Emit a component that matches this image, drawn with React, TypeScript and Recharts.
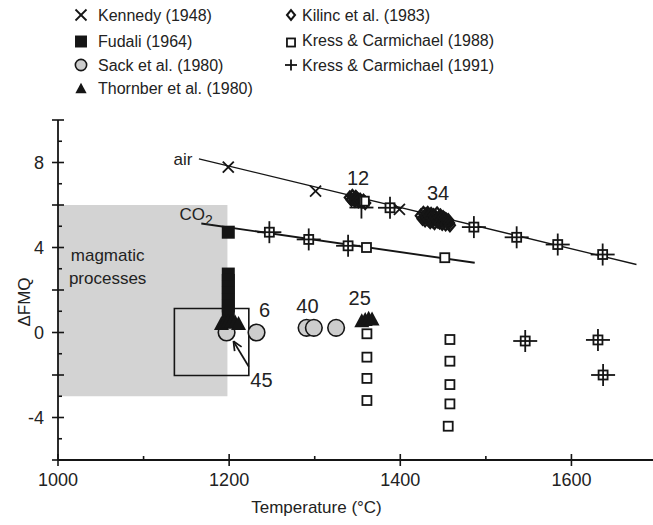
import React from 'react';
import {
  ScatterChart,
  Scatter,
  XAxis,
  YAxis,
  ReferenceArea,
  ReferenceLine,
  ReferenceDot,
} from 'recharts';

const FONT = '"Liberation Sans", Arial, Helvetica, sans-serif';
const INK = '#151515';
const TXT = '#222';

// ---- axes ----
const xTicks = [1000, 1100, 1200, 1300, 1400, 1500, 1600, 1700];
const xTickLabels = [1000, 1200, 1400, 1600];
const yTicks = [-6, -5, -4, -3, -2, -1, 0, 1, 2, 3, 4, 5, 6, 7, 8, 9, 10];
const yTickLabels = [-4, 0, 4, 8];
const xTitle = 'Temperature (°C)';
const yTitle = 'ΔFMQ';

// ---- series (temperature °C, ΔFMQ) ----
const kennedy: [number, number][] = [
  [1199, 7.78], [1301, 6.65], [1399, 5.79],
];
const fudali: [number, number][] = [
  [1199, 4.72], [1199, 2.75], [1199, 2.45], [1199, 2.15], [1199, 1.85],
  [1199, 1.55], [1199, 1.25], [1199, 0.95],
];
const sack: [number, number][] = [
  [1197, 0.0], [1232, 0.0], [1290.5, 0.22], [1299, 0.22], [1325, 0.22],
];
const thornber: [number, number][] = [
  [1191, 0.45], [1195, 0.52], [1199, 0.56], [1203, 0.56], [1207, 0.52], [1211, 0.45],
  [1355, 0.58], [1359, 0.64], [1363, 0.7], [1367, 0.66],
];
const kilinc: [number, number][] = [
  [1341, 6.35], [1343, 6.25], [1344, 6.42], [1346, 6.3], [1347, 6.2], [1348, 6.38],
  [1350, 6.28], [1351, 6.18], [1353, 6.25], [1355, 6.15], [1357, 6.2], [1359, 6.1],
  [1424, 5.5], [1426, 5.35], [1427, 5.62], [1428, 5.45], [1429, 5.28], [1430, 5.55],
  [1431, 5.4], [1432, 5.62], [1433, 5.3], [1434, 5.48], [1435, 5.2], [1436, 5.58],
  [1437, 5.38], [1438, 5.25], [1439, 5.52], [1440, 5.15], [1441, 5.45], [1442, 5.32],
  [1443, 5.6], [1444, 5.22], [1445, 5.4], [1446, 5.18], [1447, 5.5], [1448, 5.3],
  [1449, 5.12], [1450, 5.42], [1451, 5.25], [1452, 5.35], [1453, 5.1], [1454, 5.3],
  [1455, 5.2], [1456, 5.28], [1457, 5.15], [1458, 5.05],
];
const kress1988: [number, number][] = [
  [1247, 4.72], [1293, 4.38], [1339, 4.08], [1360.5, 4.0], [1452, 3.52],
  [1358, 6.18], [1388, 5.87], [1486, 4.96], [1536, 4.48], [1584, 4.14], [1636.5, 3.67],
  [1546, -0.4], [1631, -0.35], [1637, -2.0],
  [1361, -0.06], [1361, -1.16], [1361, -2.16], [1361, -3.2],
  [1458, -0.33], [1458, -1.35], [1458, -2.45], [1458, -3.36], [1456, -4.41],
];
const kress1991: [number, number][] = [
  [1247, 4.72], [1293, 4.38], [1339, 4.08], [1354.6, 5.88], [1388, 5.87],
  [1486, 4.96], [1536, 4.48], [1584, 4.14], [1636.5, 3.67],
  [1546, -0.4], [1631, -0.35], [1637, -2.0],
];

// buffer lines
const airLine: [number, number][] = [[1164.7, 8.17], [1676, 3.2]];
const co2Line: [number, number][] = [[1167.5, 5.13], [1487, 3.28]];

// regions
const magmaticBox = { x1: 1000, x2: 1198, y1: -3, y2: 6 };
const zoomBox = { x1: 1136, x2: 1223, y1: -2.02, y2: 1.13 };
const arrow: [number, number][] = [[1223, -1.61], [1205, -0.41]];

// annotations
const numberLabels = [
  { text: '12', x: 1350.6, y: 7.28 },
  { text: '34', x: 1444.2, y: 6.57 },
  { text: '6', x: 1241.5, y: 1.05 },
  { text: '40', x: 1291.5, y: 1.27 },
  { text: '25', x: 1352.6, y: 1.63 },
  { text: '45', x: 1237.7, y: -2.24 },
];
const airLabel = { text: 'air', x: 1157, y: 8.19 };
const co2Label = { text: 'CO', sub: '2', x: 1181, y: 5.6 };
const boxLabel = { lines: ['magmatic', 'processes'], x: 1058, y: [3.65, 2.55] };

type Kind = 'cross' | 'fsquare' | 'circle' | 'triangle' | 'diamond' | 'osquare' | 'plus';

const legendLeft: { name: string; kind: Kind }[] = [
  { name: 'Kennedy (1948)', kind: 'cross' },
  { name: 'Fudali (1964)', kind: 'fsquare' },
  { name: 'Sack et al. (1980)', kind: 'circle' },
  { name: 'Thornber et al. (1980)', kind: 'triangle' },
];
const legendRight: { name: string; kind: Kind }[] = [
  { name: 'Kilinc et al. (1983)', kind: 'diamond' },
  { name: 'Kress & Carmichael (1988)', kind: 'osquare' },
  { name: 'Kress & Carmichael (1991)', kind: 'plus' },
];

const pts = (a: [number, number][]) => a.map(([x, y]) => ({ x, y }));

function Marker({ kind, cx, cy, s = 1 }: { kind: Kind; cx: number; cy: number; s?: number }) {
  if (cx == null || cy == null) return null;
  switch (kind) {
    case 'cross': {
      const d = 5.5 * s;
      return (
        <g stroke={INK} strokeWidth={1.8}>
          <line x1={cx - d} y1={cy - d} x2={cx + d} y2={cy + d} />
          <line x1={cx - d} y1={cy + d} x2={cx + d} y2={cy - d} />
        </g>
      );
    }
    case 'fsquare': {
      const d = 6.5 * s;
      return <rect x={cx - d} y={cy - d} width={2 * d} height={2 * d} fill={INK} />;
    }
    case 'circle': {
      const r = 8.3 * s;
      return <circle cx={cx} cy={cy} r={r} fill="#cdcdcd" stroke={INK} strokeWidth={1.6} />;
    }
    case 'triangle': {
      const w = 7.5 * s;
      const h = 14 * s;
      return (
        <polygon
          points={`${cx},${cy - h / 2} ${cx + w},${cy + h / 2} ${cx - w},${cy + h / 2}`}
          fill={INK}
        />
      );
    }
    case 'diamond': {
      const w = 5 * s;
      const h = 6 * s;
      return (
        <polygon
          points={`${cx},${cy - h} ${cx + w},${cy} ${cx},${cy + h} ${cx - w},${cy}`}
          fill="none"
          stroke={INK}
          strokeWidth={2.3 * Math.min(1, s + 0.1)}
        />
      );
    }
    case 'osquare': {
      const d = 4.5 * s;
      return (
        <rect x={cx - d} y={cy - d} width={2 * d} height={2 * d} fill="#fff" stroke={INK} strokeWidth={1.8} />
      );
    }
    case 'plus': {
      const a = 12 * s;
      const b = 11 * s;
      return (
        <g stroke={INK} strokeWidth={1.8}>
          <line x1={cx - a} y1={cy} x2={cx + a} y2={cy} />
          <line x1={cx} y1={cy - b} x2={cx} y2={cy + b} />
        </g>
      );
    }
  }
  return null;
}

const XTick = (props: any) => {
  const { x, y, payload } = props;
  const v = payload.value as number;
  const major = v % 200 === 0;
  return (
    <g>
      <line x1={x} x2={x} y1={major ? y - 6 : y - 4} y2={major ? y + 6 : y} stroke={INK} strokeWidth={1.6} />
      {xTickLabels.includes(v) && (
        <text x={x} y={y + 26} textAnchor="middle" fontSize={18} fontFamily={FONT} fill={TXT}>
          {v}
        </text>
      )}
    </g>
  );
};

const YTick = (props: any) => {
  const { x, y, payload } = props;
  const v = payload.value as number;
  const major = v % 2 === 0;
  return (
    <g>
      <line x1={major ? x - 6 : x} x2={major ? x + 6 : x + 4} y1={y} y2={y} stroke={INK} strokeWidth={1.6} />
      {yTickLabels.includes(v) && (
        <text x={x - 14} y={y} dy="0.36em" textAnchor="end" fontSize={18} fontFamily={FONT} fill={TXT}>
          {v}
        </text>
      )}
    </g>
  );
};

const TextAt = ({ cx, cy, text, anchor = 'middle', size = 20 }: any) => (
  <text
    x={cx}
    y={cy}
    dy="0.36em"
    textAnchor={anchor}
    fontSize={size}
    fontFamily={FONT}
    fill={TXT}
  >
    {text}
  </text>
);

const ArrowShape = (p: any) => {
  const { x1, y1, x2, y2 } = p;
  const ang = Math.atan2(y2 - y1, x2 - x1);
  const L = 10;
  const spread = 0.42;
  const a1 = ang + Math.PI - spread;
  const a2 = ang + Math.PI + spread;
  return (
    <g stroke={INK} strokeWidth={1.7} fill="none">
      <line x1={x1} y1={y1} x2={x2} y2={y2} />
      <line x1={x2} y1={y2} x2={x2 + L * Math.cos(a1)} y2={y2 + L * Math.sin(a1)} />
      <line x1={x2} y1={y2} x2={x2 + L * Math.cos(a2)} y2={y2 + L * Math.sin(a2)} />
    </g>
  );
};

const Legend = () => {
  const rowsL = [15, 41.5, 65, 88];
  const rowsR = [15, 40.5, 65];
  return (
    <svg width={653} height={110} style={{ position: 'absolute', left: 0, top: 0 }}>
      {legendLeft.map((it, i) => (
        <g key={it.name}>
          <Marker kind={it.kind} cx={81} cy={rowsL[i]} s={it.kind === 'circle' ? 0.68 : it.kind === 'triangle' ? 0.75 : it.kind === 'fsquare' ? 0.92 : 1} />
          <text x={98} y={rowsL[i]} dy="0.36em" fontSize={16} fontFamily={FONT} fill={TXT}>
            {it.name}
          </text>
        </g>
      ))}
      {legendRight.map((it, i) => (
        <g key={it.name}>
          <Marker kind={it.kind} cx={291} cy={rowsR[i] + (it.kind === 'osquare' ? 2 : 0)} s={it.kind === 'plus' ? 0.5 : it.kind === 'diamond' ? 0.8 : 0.9} />
          <text x={302} y={rowsR[i]} dy="0.36em" fontSize={16} fontFamily={FONT} fill={TXT}>
            {it.name}
          </text>
        </g>
      ))}
    </svg>
  );
};

export default function App() {
  return (
    <div
      style={{
        position: 'absolute',
        left: 0,
        top: 0,
        width: 653,
        height: 525,
        overflow: 'hidden',
        background: '#fff',
      }}
    >
      <ScatterChart width={680} height={525} margin={{ top: 120, right: 23, left: 18, bottom: 0 }}>
        <ReferenceArea
          x1={magmaticBox.x1}
          x2={magmaticBox.x2}
          y1={magmaticBox.y1}
          y2={magmaticBox.y2}
          fill="#d3d3d3"
          fillOpacity={1}
          stroke="none"
        />
        <XAxis
          dataKey="x"
          type="number"
          domain={[1000, 1700]}
          ticks={xTicks}
          interval={0}
          tickSize={0}
          tickMargin={0}
          tickLine={false}
          tick={<XTick />}
          axisLine={{ stroke: INK, strokeWidth: 1.8 }}
          height={65}
          allowDataOverflow
          label={(props: any) => {
            const vb = props.viewBox;
            return (
              <text
                x={vb.x + 258.5}
                y={vb.y + 53}
                textAnchor="middle"
                fontSize={17}
                fontFamily={FONT}
                fill={TXT}
              >
                {xTitle}
              </text>
            );
          }}
        />
        <XAxis
          xAxisId="top"
          orientation="top"
          type="number"
          domain={[1000, 1700]}
          height={0}
          tick={false}
          tickLine={false}
          axisLine={{ stroke: INK, strokeWidth: 1.8 }}
          allowDataOverflow
        />
        <YAxis
          dataKey="y"
          type="number"
          domain={[-6, 10]}
          ticks={yTicks}
          interval={0}
          tickSize={0}
          tickMargin={0}
          tickLine={false}
          tick={<YTick />}
          axisLine={{ stroke: INK, strokeWidth: 1.8 }}
          width={40}
          allowDataOverflow
          label={(props: any) => {
            const vb = props.viewBox;
            const cx = 30;
            const cy = vb.y + vb.height / 2 + 12;
            return (
              <text
                x={cx}
                y={cy}
                transform={`rotate(-90, ${cx}, ${cy})`}
                textAnchor="middle"
                fontSize={17}
                fontFamily={FONT}
                fill={TXT}
              >
                {yTitle}
              </text>
            );
          }}
        />
        <ReferenceArea
          x1={zoomBox.x1}
          x2={zoomBox.x2}
          y1={zoomBox.y1}
          y2={zoomBox.y2}
          fill="none"
          stroke={INK}
          strokeWidth={1.6}
        />
        <Scatter
          data={pts(airLine)}
          line={{ stroke: INK, strokeWidth: 1.3 }}
          shape={() => null}
          isAnimationActive={false}
        />
        <Scatter
          data={pts(co2Line)}
          line={{ stroke: INK, strokeWidth: 1.9 }}
          shape={() => null}
          isAnimationActive={false}
        />
        <ReferenceLine
          segment={[
            { x: arrow[0][0], y: arrow[0][1] },
            { x: arrow[1][0], y: arrow[1][1] },
          ]}
          shape={ArrowShape}
          ifOverflow="visible"
        />
        <Scatter data={pts(fudali)} shape={(p: any) => <Marker kind="fsquare" cx={p.cx} cy={p.cy} />} isAnimationActive={false} />
        <Scatter data={pts(sack)} shape={(p: any) => <Marker kind="circle" cx={p.cx} cy={p.cy} />} isAnimationActive={false} />
        <Scatter data={pts(thornber)} shape={(p: any) => <Marker kind="triangle" cx={p.cx} cy={p.cy} />} isAnimationActive={false} />
        <Scatter data={pts(kilinc)} shape={(p: any) => <Marker kind="diamond" cx={p.cx} cy={p.cy} />} isAnimationActive={false} />
        <Scatter data={pts(kress1988)} shape={(p: any) => <Marker kind="osquare" cx={p.cx} cy={p.cy} />} isAnimationActive={false} />
        <Scatter data={pts(kress1991)} shape={(p: any) => <Marker kind="plus" cx={p.cx} cy={p.cy} />} isAnimationActive={false} />
        <Scatter data={pts(kennedy)} shape={(p: any) => <Marker kind="cross" cx={p.cx} cy={p.cy} />} isAnimationActive={false} />
        {numberLabels.map((l) => (
          <ReferenceDot
            key={l.text}
            x={l.x}
            y={l.y}
            r={0}
            ifOverflow="visible"
            shape={(p: any) => <TextAt cx={p.cx} cy={p.cy} text={l.text} size={20} />}
          />
        ))}
        <ReferenceDot
          x={airLabel.x}
          y={airLabel.y}
          r={0}
          ifOverflow="visible"
          shape={(p: any) => <TextAt cx={p.cx} cy={p.cy} text={airLabel.text} anchor="end" size={17} />}
        />
        <ReferenceDot
          x={co2Label.x}
          y={co2Label.y}
          r={0}
          ifOverflow="visible"
          shape={(p: any) => (
            <text x={p.cx} y={p.cy} dy="0.36em" textAnchor="end" fontSize={17} fontFamily={FONT} fill={TXT}>
              {co2Label.text}
              <tspan fontSize={14} dy={5}>
                {co2Label.sub}
              </tspan>
            </text>
          )}
        />
        {boxLabel.lines.map((t, i) => (
          <ReferenceDot
            key={t}
            x={boxLabel.x}
            y={boxLabel.y[i]}
            r={0}
            ifOverflow="visible"
            shape={(p: any) => <TextAt cx={p.cx} cy={p.cy} text={t} size={17} />}
          />
        ))}
      </ScatterChart>
      <Legend />
    </div>
  );
}
